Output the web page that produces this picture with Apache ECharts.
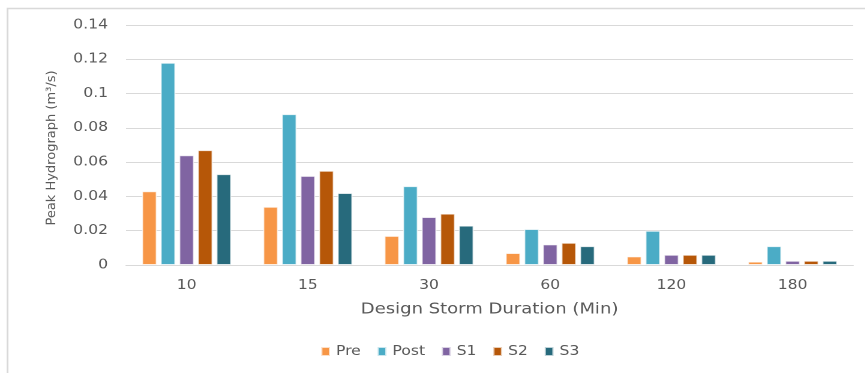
<!DOCTYPE html>
<html>
<head>
<meta charset="utf-8">
<script src="https://cdn.jsdelivr.net/npm/echarts@6/dist/echarts.min.js"></script>
<style>
  html, body { margin: 0; padding: 0; background: #fff; overflow: hidden; }
  /* the chart is laid out narrower and widened, giving the broad lettering of the original figure */
  #chart { width: 721px; height: 373px; transform: scaleX(1.2); transform-origin: 0 0; }
</style>
</head>
<body>
<div id="chart"></div>
<script>
// Design storm durations (minutes)
const durations = ['10', '15', '30', '60', '120', '180'];

// Peak hydrograph flows (m³/s) per scenario
const pre  = [0.043, 0.034, 0.017, 0.007, 0.005, 0.002];
const post = [0.118, 0.088, 0.046, 0.021, 0.020, 0.011];
const s1   = [0.064, 0.052, 0.028, 0.012, 0.006, 0.0025];
const s2   = [0.067, 0.055, 0.030, 0.013, 0.006, 0.0025];
const s3   = [0.053, 0.042, 0.023, 0.011, 0.006, 0.0025];

const seriesNames = ['Pre', 'Post', 'S1', 'S2', 'S3'];
const seriesData = [pre, post, s1, s2, s3];
const colors = ['#F79646', '#4BACC6', '#8064A2', '#B65708', '#276A7C'];

const textColor = '#595959';
const font = 'DejaVu Sans';
const SX = 1.2; // horizontal widening applied by CSS

const chart = echarts.init(document.getElementById('chart'), null, { devicePixelRatio: 2 });

chart.setOption({
  backgroundColor: '#fff',
  animation: false,
  color: colors,
  graphic: [
    {
      type: 'rect',
      shape: { x: 6.25, y: 8.5, width: 800, height: 400 },
      style: { fill: 'none', stroke: '#d9d9d9', lineWidth: 1.4 },
      silent: true
    },
    {
      // y-axis title, kept narrow across the widening
      type: 'text',
      x: 52 / SX,
      y: 148,
      rotation: Math.PI / 2,
      scaleY: 1 / SX,
      style: {
        text: 'Peak Hydrograph (m³/s)',
        fill: textColor,
        font: '13px "DejaVu Sans"',
        align: 'center',
        verticalAlign: 'middle'
      },
      silent: true
    }
  ],
  grid: { left: 126 / SX, right: 12 / SX, top: 25, bottom: 108 },
  legend: {
    bottom: 10,
    left: 314 / SX,
    itemWidth: 8.8 / SX,
    itemHeight: 9,
    itemGap: 13,
    icon: 'rect',
    textStyle: { color: textColor, fontSize: 13, fontFamily: font },
    data: seriesNames
  },
  xAxis: {
    type: 'category',
    data: durations,
    name: 'Design Storm Duration (Min)',
    nameLocation: 'middle',
    nameGap: 37,
    nameTextStyle: { color: textColor, fontSize: 15, fontFamily: font },
    axisLine: { lineStyle: { color: '#d9d9d9', width: 1 } },
    axisTick: { show: false },
    axisLabel: { color: textColor, fontSize: 13, fontFamily: font, margin: 14 }
  },
  yAxis: {
    type: 'value',
    min: 0,
    max: 0.14,
    interval: 0.02,
    axisLine: { show: false },
    axisTick: { show: false },
    splitLine: { lineStyle: { color: '#d9d9d9', width: 1 } },
    axisLabel: {
      color: textColor, fontSize: 13, fontFamily: font, margin: 18 / SX,
      formatter: v => String(parseFloat(v.toFixed(2)))
    }
  },
  series: seriesData.map((d, i) => ({
    name: seriesNames[i],
    type: 'bar',
    data: d,
    barWidth: 15 / SX,
    barGap: '24%',
    itemStyle: { borderColor: 'rgba(255,255,255,0.7)', borderWidth: 1 }
  }))
});
</script>
</body>
</html>
